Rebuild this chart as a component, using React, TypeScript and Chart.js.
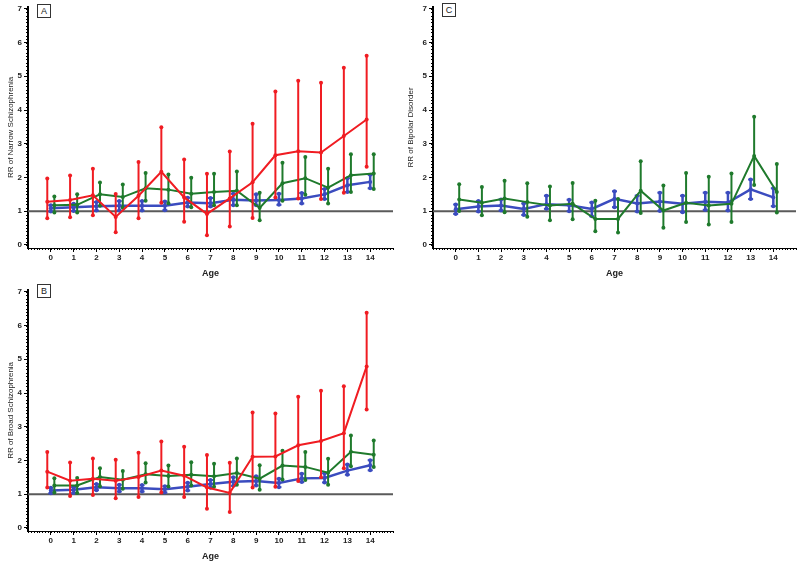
import React, { useEffect, useRef } from 'react';
import { Chart, registerables } from 'chart.js';

Chart.register(...registerables);

// ---------- data ----------
const ages = [0, 1, 2, 3, 4, 5, 6, 7, 8, 9, 10, 11, 12, 13, 14];
const yTickValues = [0, 1, 2, 3, 4, 5, 6, 7];

// Panel A – Narrow schizophrenia
const narrowRed = [1.28, 1.33, 1.47, 0.83, 1.46, 2.17, 1.41, 0.92, 1.38, 1.86, 2.66, 2.78, 2.74, 3.23, 3.72];
const narrowRedLow = [0.79, 0.82, 0.88, 0.38, 0.79, 1.25, 0.69, 0.29, 0.55, 0.8, 1.41, 1.38, 1.36, 1.55, 2.32];
const narrowRedHigh = [1.97, 2.06, 2.26, 1.51, 2.46, 3.49, 2.53, 2.11, 2.77, 3.59, 4.55, 4.87, 4.81, 5.25, 5.61];
const narrowGreen = [1.18, 1.19, 1.5, 1.42, 1.68, 1.64, 1.52, 1.57, 1.61, 1.1, 1.83, 1.98, 1.7, 2.07, 2.12];
const narrowGreenLow = [0.96, 0.96, 1.16, 1.1, 1.31, 1.24, 1.12, 1.18, 1.18, 0.73, 1.31, 1.49, 1.23, 1.57, 1.66];
const narrowGreenHigh = [1.44, 1.5, 1.85, 1.79, 2.13, 2.09, 1.99, 2.11, 2.18, 1.55, 2.44, 2.61, 2.26, 2.69, 2.69];
const narrowBlue = [1.09, 1.12, 1.15, 1.16, 1.16, 1.16, 1.26, 1.24, 1.34, 1.32, 1.33, 1.38, 1.5, 1.77, 1.87];
const narrowBlueLow = [0.99, 1.01, 1.02, 1.02, 1.02, 1.03, 1.14, 1.14, 1.18, 1.18, 1.19, 1.23, 1.36, 1.57, 1.68];
const narrowBlueHigh = [1.18, 1.22, 1.27, 1.3, 1.3, 1.29, 1.4, 1.39, 1.52, 1.5, 1.52, 1.54, 1.66, 1.98, 2.08];

// Panel B – Broad schizophrenia
const broadRed = [1.67, 1.4, 1.46, 1.4, 1.51, 1.7, 1.55, 1.2, 1.04, 2.11, 2.12, 2.45, 2.58, 2.81, 4.79];
const broadRedLow = [1.2, 0.95, 0.98, 0.88, 0.92, 1.05, 0.92, 0.57, 0.47, 1.2, 1.22, 1.39, 1.5, 1.77, 3.51];
const broadRedHigh = [2.25, 1.94, 2.06, 2.02, 2.23, 2.56, 2.41, 2.16, 1.93, 3.42, 3.39, 3.89, 4.07, 4.2, 6.38];
const broadGreen = [1.26, 1.26, 1.51, 1.43, 1.59, 1.54, 1.58, 1.53, 1.63, 1.46, 1.85, 1.81, 1.64, 2.26, 2.17];
const broadGreenLow = [1.05, 1.04, 1.24, 1.16, 1.35, 1.23, 1.26, 1.22, 1.28, 1.13, 1.44, 1.42, 1.28, 1.83, 1.81];
const broadGreenHigh = [1.47, 1.48, 1.77, 1.69, 1.92, 1.85, 1.95, 1.9, 2.06, 1.86, 2.29, 2.25, 2.05, 2.74, 2.59];
const broadBlue = [1.11, 1.13, 1.21, 1.18, 1.18, 1.15, 1.22, 1.3, 1.37, 1.39, 1.33, 1.47, 1.48, 1.7, 1.86];
const broadBlueLow = [1.03, 1.04, 1.12, 1.08, 1.08, 1.05, 1.11, 1.19, 1.25, 1.26, 1.21, 1.36, 1.35, 1.58, 1.71];
const broadBlueHigh = [1.19, 1.21, 1.3, 1.28, 1.27, 1.24, 1.34, 1.42, 1.5, 1.53, 1.46, 1.61, 1.62, 1.88, 2.01];

// Panel C – Bipolar disorder
const bipolarGreen = [1.35, 1.25, 1.38, 1.27, 1.17, 1.22, 0.77, 0.77, 1.61, 1.02, 1.25, 1.17, 1.22, 2.64, 1.57];
const bipolarGreenLow = [1.01, 0.88, 0.97, 0.84, 0.73, 0.76, 0.41, 0.37, 0.95, 0.51, 0.68, 0.61, 0.68, 1.78, 0.96];
const bipolarGreenHigh = [1.8, 1.72, 1.9, 1.83, 1.73, 1.84, 1.31, 1.36, 2.48, 1.76, 2.13, 2.02, 2.12, 3.8, 2.4];
const bipolarBlue = [1.06, 1.14, 1.17, 1.07, 1.21, 1.18, 1.07, 1.37, 1.23, 1.29, 1.22, 1.28, 1.26, 1.65, 1.41];
const bipolarBlueLow = [0.92, 0.99, 1.02, 0.89, 1.07, 1.0, 0.85, 1.12, 0.99, 1.01, 0.97, 1.04, 1.02, 1.36, 1.15];
const bipolarBlueHigh = [1.2, 1.3, 1.35, 1.23, 1.46, 1.34, 1.26, 1.59, 1.46, 1.55, 1.46, 1.55, 1.55, 1.94, 1.68];

// ---------- styles ----------
const RED = '#f01c22';
const GREEN = '#1f7a2c';
const BLUE = '#3b4cbf';
const FONT = "'Liberation Sans', Arial, sans-serif";

const errorBarPlugin = {
  id: 'errorBars',
  afterDatasetDraw(chart: any, args: any) {
    const ds: any = chart.data.datasets[args.index];
    if (!ds.errLow) return;
    const xs = chart.scales.x;
    const ys = chart.scales.y;
    const ctx = chart.ctx;
    ctx.save();
    ctx.strokeStyle = ds.borderColor;
    ctx.fillStyle = ds.borderColor;
    ctx.lineWidth = ds.errWidth || 2;
    ds.data.forEach((p: any, i: number) => {
      const px = xs.getPixelForValue(p.x);
      const yl = ys.getPixelForValue(ds.errLow[i]);
      const yh = ys.getPixelForValue(ds.errHigh[i]);
      ctx.beginPath();
      ctx.moveTo(px, yl);
      ctx.lineTo(px, yh);
      ctx.stroke();
      [yl, yh].forEach((yy) => {
        ctx.beginPath();
        ctx.arc(px, yy, 2, 0, Math.PI * 2);
        ctx.fill();
        if (ds.errCap) {
          ctx.fillRect(px - 2.5, yy - 1, 5, 2);
        }
      });
    });
    ctx.restore();
  },
};

const refLinePlugin = {
  id: 'refLine',
  beforeDatasetsDraw(chart: any) {
    const ys = chart.scales.y;
    const { left, right } = chart.chartArea;
    const y = ys.getPixelForValue(1);
    const ctx = chart.ctx;
    ctx.save();
    ctx.strokeStyle = '#5a5a5a';
    ctx.lineWidth = 2;
    ctx.beginPath();
    ctx.moveTo(left, y);
    ctx.lineTo(right, y);
    ctx.stroke();
    ctx.restore();
  },
};

const minorTickPlugin = {
  id: 'minorTicks',
  afterDraw(chart: any) {
    const xs = chart.scales.x;
    const ys = chart.scales.y;
    const { left, bottom } = chart.chartArea;
    const ctx = chart.ctx;
    ctx.save();
    ctx.strokeStyle = '#000';
    ctx.lineWidth = 1;
    ctx.beginPath();
    for (let i = -8; i <= 15 * 8; i++) {
      const px = Math.round(xs.getPixelForValue(i / 8)) + 0.5;
      ctx.moveTo(px, bottom);
      ctx.lineTo(px, bottom + 2);
    }
    for (let i = 0; i <= 70; i++) {
      const py = Math.round(ys.getPixelForValue(i / 10)) + 0.5;
      ctx.moveTo(left, py);
      ctx.lineTo(left - 2, py);
    }
    ctx.stroke();
    ctx.restore();
  },
};

type Series = { values: number[]; low: number[]; high: number[]; color: string; offset: number; width: number; cap?: boolean; order: number };

function buildConfig(title: string, series: Series[], yAxisWidth: number, rightPad: number): any {
  return {
    type: 'line',
    data: {
      datasets: series.map((s) => ({
        data: s.values.map((v, i) => ({ x: ages[i] + s.offset, y: v })),
        errLow: s.low,
        errHigh: s.high,
        errWidth: s.width,
        errCap: s.cap,
        borderColor: s.color,
        backgroundColor: s.color,
        borderWidth: s.width,
        pointRadius: 2,
        pointBorderWidth: 0,
        pointBackgroundColor: s.color,
        tension: 0,
        order: s.order,
      })),
    },
    options: {
      animation: false,
      responsive: false,
      events: [],
      layout: { padding: { top: 3, right: rightPad, left: 0, bottom: 0 } },
      plugins: { legend: { display: false }, tooltip: { enabled: false } },
      scales: {
        x: {
          type: 'linear',
          min: -1,
          max: 15,
          afterBuildTicks: (s: any) => {
            s.ticks = ages.map((v) => ({ value: v }));
          },
          afterFit: (s: any) => {
            s.height = 32;
          },
          grid: { drawOnChartArea: false, drawTicks: true, tickLength: 4, color: '#000', lineWidth: 1 },
          border: { color: '#000', width: 1 },
          ticks: { font: { size: 8, weight: 'bold', family: FONT }, color: '#222', padding: 1, maxRotation: 0, autoSkip: false },
          title: { display: true, text: 'Age', color: '#222', font: { size: 9, weight: 'bold', family: FONT }, padding: { top: 0, bottom: 1 } },
        },
        y: {
          min: -0.09,
          max: 7.06,
          afterBuildTicks: (s: any) => {
            s.ticks = yTickValues.map((v) => ({ value: v }));
          },
          afterFit: (s: any) => {
            s.width = yAxisWidth;
          },
          grid: { drawOnChartArea: false, drawTicks: true, tickLength: 4, color: '#000', lineWidth: 1 },
          border: { color: '#000', width: 2 },
          ticks: { font: { size: 8, weight: 'bold', family: FONT }, color: '#222', padding: 2 },
          title: { display: true, text: title, color: '#222', font: { size: 8, family: FONT }, padding: { top: 6, bottom: 0 } },
        },
      },
    },
    plugins: [refLinePlugin, errorBarPlugin, minorTickPlugin],
  };
}

function Panel(props: { left: number; top: number; label: string; labelLeft: number; labelTop: number; config: any }) {
  const ref = useRef<HTMLCanvasElement | null>(null);
  useEffect(() => {
    if (!ref.current) return;
    const chart = new Chart(ref.current, props.config);
    return () => chart.destroy();
  }, []);
  return (
    <>
      <canvas
        ref={ref}
        width={400}
        height={280}
        style={{ position: 'absolute', left: props.left, top: props.top, width: 400, height: 280 }}
      />
      <div
        style={{
          position: 'absolute',
          left: props.labelLeft,
          top: props.labelTop,
          width: 12,
          height: 12,
          border: '1px solid #333',
          fontFamily: FONT,
          fontSize: 9,
          lineHeight: '12px',
          textAlign: 'center',
          color: '#222',
          background: '#fff',
        }}
      >
        {props.label}
      </div>
    </>
  );
}

export default function App() {
  const cfgA = buildConfig(
    'RR of Narrow Schizophrenia',
    [
      { values: narrowBlue, low: narrowBlueLow, high: narrowBlueHigh, color: BLUE, offset: 0, width: 2.5, cap: true, order: 3 },
      { values: narrowGreen, low: narrowGreenLow, high: narrowGreenHigh, color: GREEN, offset: 0.155, width: 2, order: 2 },
      { values: narrowRed, low: narrowRedLow, high: narrowRedHigh, color: RED, offset: -0.155, width: 2, order: 1 },
    ],
    28,
    7
  );
  const cfgB = buildConfig(
    'RR of Broad Schizophrenia',
    [
      { values: broadBlue, low: broadBlueLow, high: broadBlueHigh, color: BLUE, offset: 0, width: 2.5, cap: true, order: 3 },
      { values: broadGreen, low: broadGreenLow, high: broadGreenHigh, color: GREEN, offset: 0.155, width: 2, order: 2 },
      { values: broadRed, low: broadRedLow, high: broadRedHigh, color: RED, offset: -0.155, width: 2, order: 1 },
    ],
    28,
    7
  );
  const cfgC = buildConfig(
    'RR of Bipolar Disorder',
    [
      { values: bipolarBlue, low: bipolarBlueLow, high: bipolarBlueHigh, color: BLUE, offset: 0, width: 2.5, cap: true, order: 2 },
      { values: bipolarGreen, low: bipolarGreenLow, high: bipolarGreenHigh, color: GREEN, offset: 0.155, width: 2, order: 1 },
    ],
    33,
    4
  );
  return (
    <div style={{ position: 'fixed', left: 0, top: 0, width: 800, height: 563, background: '#fff', overflow: 'hidden' }}>
      <Panel left={0} top={0} label="A" labelLeft={37} labelTop={4} config={cfgA} />
      <Panel left={0} top={283} label="B" labelLeft={37} labelTop={284} config={cfgB} />
      <Panel left={400} top={0} label="C" labelLeft={442} labelTop={3} config={cfgC} />
    </div>
  );
}
